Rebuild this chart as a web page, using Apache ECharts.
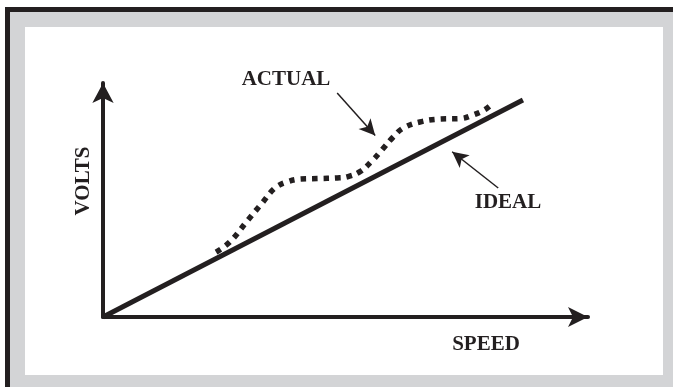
<!DOCTYPE html>
<html>
<head>
<meta charset="utf-8">
<script src="https://cdn.jsdelivr.net/npm/echarts@6/dist/echarts.min.js"></script>
<style>
  html, body { margin: 0; padding: 0; background: #fff; }
  #main { width: 673px; height: 387px; }
</style>
</head>
<body>
<div id="main"></div>
<script>
// 数据 (x: speed, y: volts, arbitrary units)
var idealLine = [[0, 0], [88.4, 96.9]];

var actualLine = [
  [23.8, 29.0], [26.7, 33.5], [30.5, 43.3], [33.5, 50.9], [36.2, 57.6],
  [38.7, 60.3], [41.5, 61.6], [45.1, 61.8], [49.3, 62.1], [51.4, 62.6],
  [54.1, 64.9], [56.8, 70.1], [58.7, 74.6], [61.1, 80.4], [63.2, 84.4],
  [66.7, 87.1], [70.9, 88.4], [75.2, 88.6], [77.9, 90.2], [80.4, 92.6],
  [82.1, 95.5]
];

// 标注箭头 [start, end]
var actualArrow = [[49.3, 100.0], [57.3, 81.0]];
var idealArrow = [[83.2, 57.6], [73.5, 73.8]];

// 坐标轴范围 (箭头尖端处)
var xMax = 102.1;
var yMax = 104.5;

var ink = '#231f20';
var font = '"Liberation Serif", "Times New Roman", serif';

var chart = echarts.init(document.getElementById('main'), null, { renderer: 'canvas' });

var option = {
  animation: false,
  backgroundColor: '#fff',
  grid: { left: 103, right: 85, top: 83, bottom: 70 },
  xAxis: {
    type: 'value', min: 0, max: xMax,
    axisLine: {
      show: true,
      symbol: ['none', 'arrow'],
      symbolSize: [15, 20],
      lineStyle: { color: ink, width: 4 }
    },
    axisTick: { show: false },
    axisLabel: { show: false },
    splitLine: { show: false }
  },
  yAxis: {
    type: 'value', min: 0, max: yMax,
    axisLine: {
      show: true,
      symbol: ['none', 'arrow'],
      symbolSize: [16, 20],
      lineStyle: { color: ink, width: 4 }
    },
    axisTick: { show: false },
    axisLabel: { show: false },
    splitLine: { show: false }
  },
  graphic: [
    // 外框
    { type: 'rect', z: -10, shape: { x: 5, y: 7, width: 668, height: 380 }, style: { fill: '#d3d4d6' } },
    { type: 'rect', z: -9, shape: { x: 5, y: 7, width: 668, height: 5 }, style: { fill: ink } },
    { type: 'rect', z: -9, shape: { x: 5, y: 7, width: 5, height: 380 }, style: { fill: ink } },
    { type: 'rect', z: -8, shape: { x: 25, y: 27, width: 638, height: 348 }, style: { fill: '#fff' } },
    // 文字
    { type: 'text', x: 286, y: 80, style: { text: 'ACTUAL', fill: ink, font: 'bold 21px ' + font, textAlign: 'center', textVerticalAlign: 'middle' } },
    { type: 'text', x: 508, y: 203, style: { text: 'IDEAL', fill: ink, font: 'bold 21px ' + font, textAlign: 'center', textVerticalAlign: 'middle' } },
    { type: 'text', x: 486, y: 345, style: { text: 'SPEED', fill: ink, font: 'bold 21px ' + font, textAlign: 'center', textVerticalAlign: 'middle' } },
    { type: 'text', x: 84, y: 181, rotation: Math.PI / 2, style: { text: 'VOLTS', fill: ink, font: 'bold 21px ' + font, textAlign: 'center', textVerticalAlign: 'middle' } }
  ],
  series: [
    {
      name: 'IDEAL',
      type: 'line',
      data: idealLine,
      symbol: 'none',
      lineStyle: { color: ink, width: 5 },
      markLine: {
        silent: true,
        symbol: ['none', 'arrow'],
        symbolSize: [12, 16],
        label: { show: false },
        lineStyle: { color: ink, width: 1.5, type: 'solid' },
        data: [
          [{ coord: actualArrow[0] }, { coord: actualArrow[1] }],
          [{ coord: idealArrow[0] }, { coord: idealArrow[1] }]
        ]
      }
    },
    {
      name: 'ACTUAL',
      type: 'line',
      data: actualLine,
      symbol: 'none',
      smooth: 0.4,
      lineStyle: { color: ink, width: 5.5, type: [5.5, 6] }
    }
  ]
};

chart.setOption(option);
</script>
</body>
</html>
